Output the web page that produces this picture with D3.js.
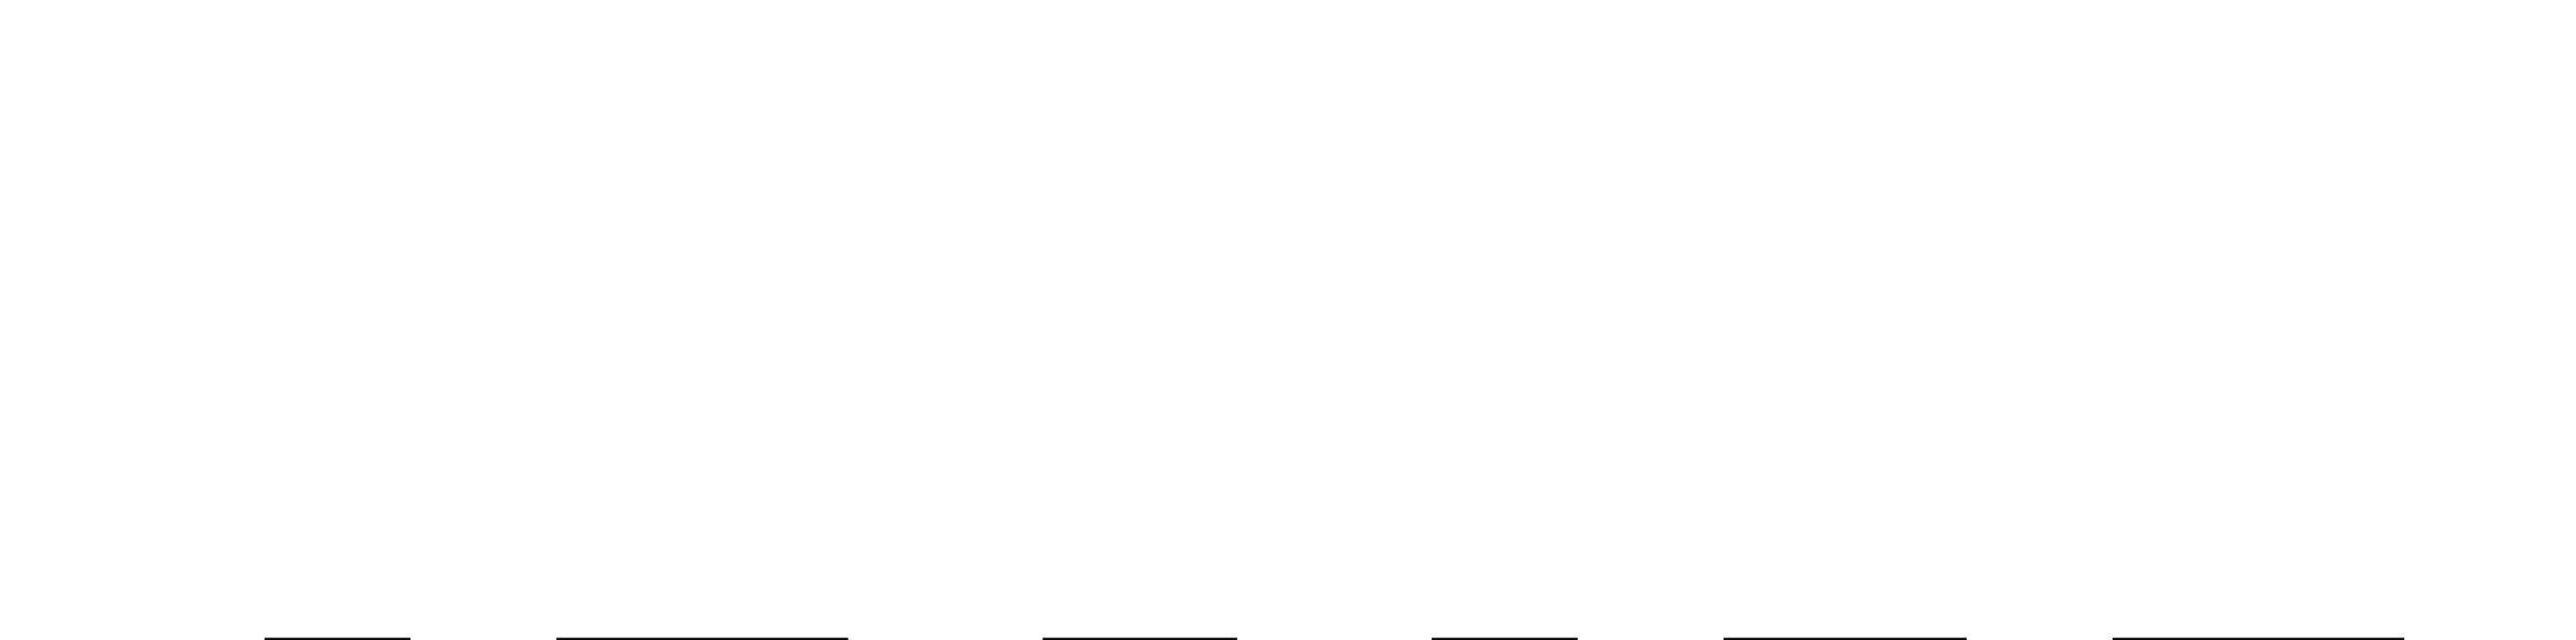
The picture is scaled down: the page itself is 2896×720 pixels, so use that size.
<!DOCTYPE html>
<html>
<head>
<meta charset="utf-8">
<script src="https://cdn.jsdelivr.net/npm/d3@7"></script>
<style>
  html, body { margin: 0; padding: 0; background: #ffffff; overflow: hidden; }
</style>
</head>
<body>
<svg id="svgHolder"></svg>
<script>
// segment data, in chart units
let starts = [0, 6, 16, 24, 30, 38];
let ends = [3, 12, 20, 27, 35, 44];
let values = [1, 1, 1, 1, 1, 1];

let width = 2896;
let height = 720;

let xScale = d3.scaleLinear()
    .domain([0, 44])
    .range([297.5, 2703]);

// bars start just above the bottom edge and run past it
let yScale = d3.scaleLinear()
    .domain([0, 1])
    .range([780, 717.5]);

let svg = d3.select('#svgHolder')
    .attr('width', width)
    .attr('height', height);

svg.selectAll('rect')
    .data(starts.map((s, i) => ({start: s, end: ends[i], value: values[i]})))
    .enter()
    .append('rect')
    .attr('x', (d) => xScale(d.start))
    .attr('width', (d) => xScale(d.end) - xScale(d.start))
    .attr('y', (d) => yScale(d.value))
    .attr('height', (d) => yScale(0) - yScale(d.value))
    .attr('fill', '#000000');
</script>
</body>
</html>
